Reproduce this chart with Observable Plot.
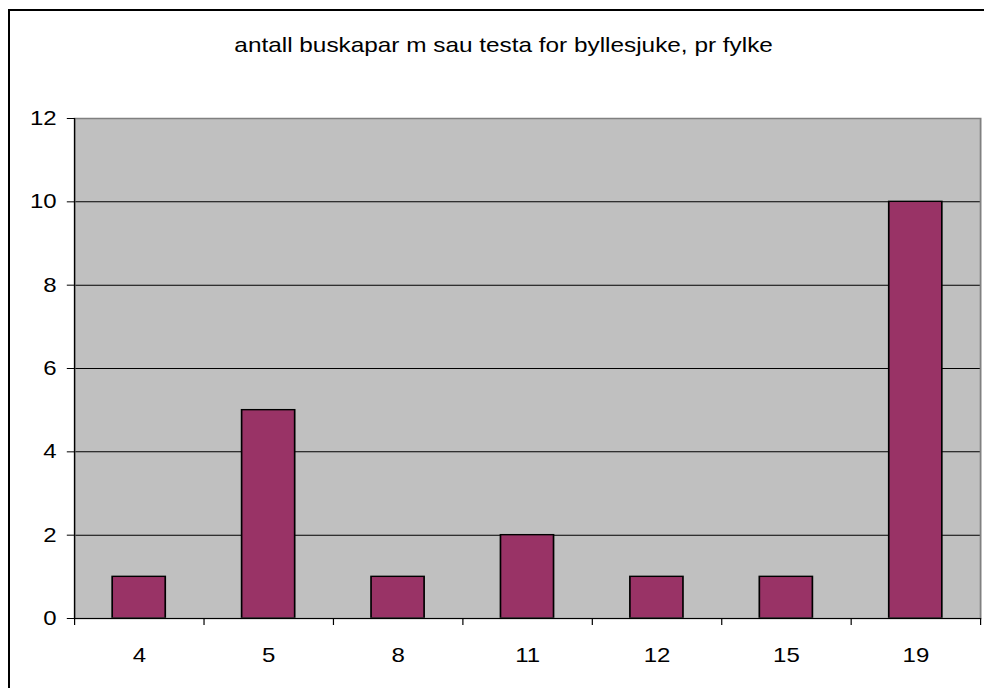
<!DOCTYPE html>
<html><head><meta charset="utf-8">
<script src="https://cdn.jsdelivr.net/npm/d3@7"></script>
<script src="https://cdn.jsdelivr.net/npm/@observablehq/plot@0.6"></script>
<style>
html,body{margin:0;padding:0;background:#fff;overflow:hidden;width:984px;height:688px;}
#wrap{position:relative;width:984px;height:688px;overflow:hidden;}
#border{position:absolute;left:8px;top:9px;width:1200px;height:1200px;border:2.5px solid #000;pointer-events:none;}
#chart svg{display:block;}
</style></head><body><div id="wrap"><div id="chart"></div><div id="border"></div></div>
<script>
const title = "antall buskapar m sau testa for byllesjuke, pr fylke";
const fylke = ["4", "5", "8", "11", "12", "15", "19"];
const buskapar = [1, 5, 1, 2, 1, 1, 10];
const yTicks = [0, 2, 4, 6, 8, 10, 12];
const gridValues = [2, 4, 6, 8, 10];

const data = fylke.map((f, i) => ({fylke: f, n: buskapar[i]}));

// logical layout (the original picture is stretched horizontally by 1.2)
const SX = 1.2;
const W = 984 / SX, H = 688;
const ML = 74 / SX, MR = (984 - 980) / SX, MT = 118, MB = 70;
const plotH = H - MT - MB;
const step = (W - ML - MR) / fylke.length;
const titleCenter = 503 / SX;

const chart = Plot.plot({
  width: W, height: H,
  marginLeft: ML, marginRight: MR, marginTop: MT, marginBottom: MB,
  style: {fontFamily: "'Liberation Sans', Arial, sans-serif", fontSize: "20px", color: "#000", background: "#fff"},
  x: {domain: fylke, paddingInner: 0.59, paddingOuter: 0.295, round: false, label: null},
  y: {domain: [0, 12], label: null},
  marks: [
    Plot.frame({fill: "#c0c0c0"}),
    Plot.ruleY(gridValues, {stroke: "#000", strokeWidth: 1}),
    Plot.barY(data, {x: "fylke", y: "n", fill: "#993366", stroke: "#000", strokeWidth: 1.4}),
    Plot.frame({stroke: "#808080", strokeWidth: 1.5}),
    Plot.ruleY([0], {stroke: "#000", strokeWidth: 1.2}),
    Plot.ruleX([fylke[0]], {dx: -step / 2, stroke: "#000", strokeWidth: 1}),
    Plot.ruleX(fylke, {dx: -step / 2, insetTop: plotH, insetBottom: -7, stroke: "#000", strokeWidth: 1}),
    Plot.ruleX([fylke[fylke.length - 1]], {dx: step / 2, insetTop: plotH, insetBottom: -7, stroke: "#000", strokeWidth: 1}),
    Plot.axisY({ticks: yTicks, tickSize: 6, tickPadding: 9, label: null, fontSize: 20}),
    Plot.axisX({tickSize: 0, tickPadding: 29, label: null, fontSize: 20}),
    Plot.text([title], {frameAnchor: "top-left", dx: titleCenter - ML, dy: -73, textAnchor: "middle", lineAnchor: "middle", fontSize: 20.3, fill: "#000"})
  ]
});
chart.setAttribute("width", 984);
chart.setAttribute("height", 688);
chart.setAttribute("viewBox", `0 0 ${W} ${H}`);
chart.setAttribute("preserveAspectRatio", "none");
chart.style.width = "984px";
chart.style.height = "688px";
chart.style.maxWidth = "none";
chart.style.overflow = "visible";
document.getElementById("chart").appendChild(chart);
</script></body></html>
